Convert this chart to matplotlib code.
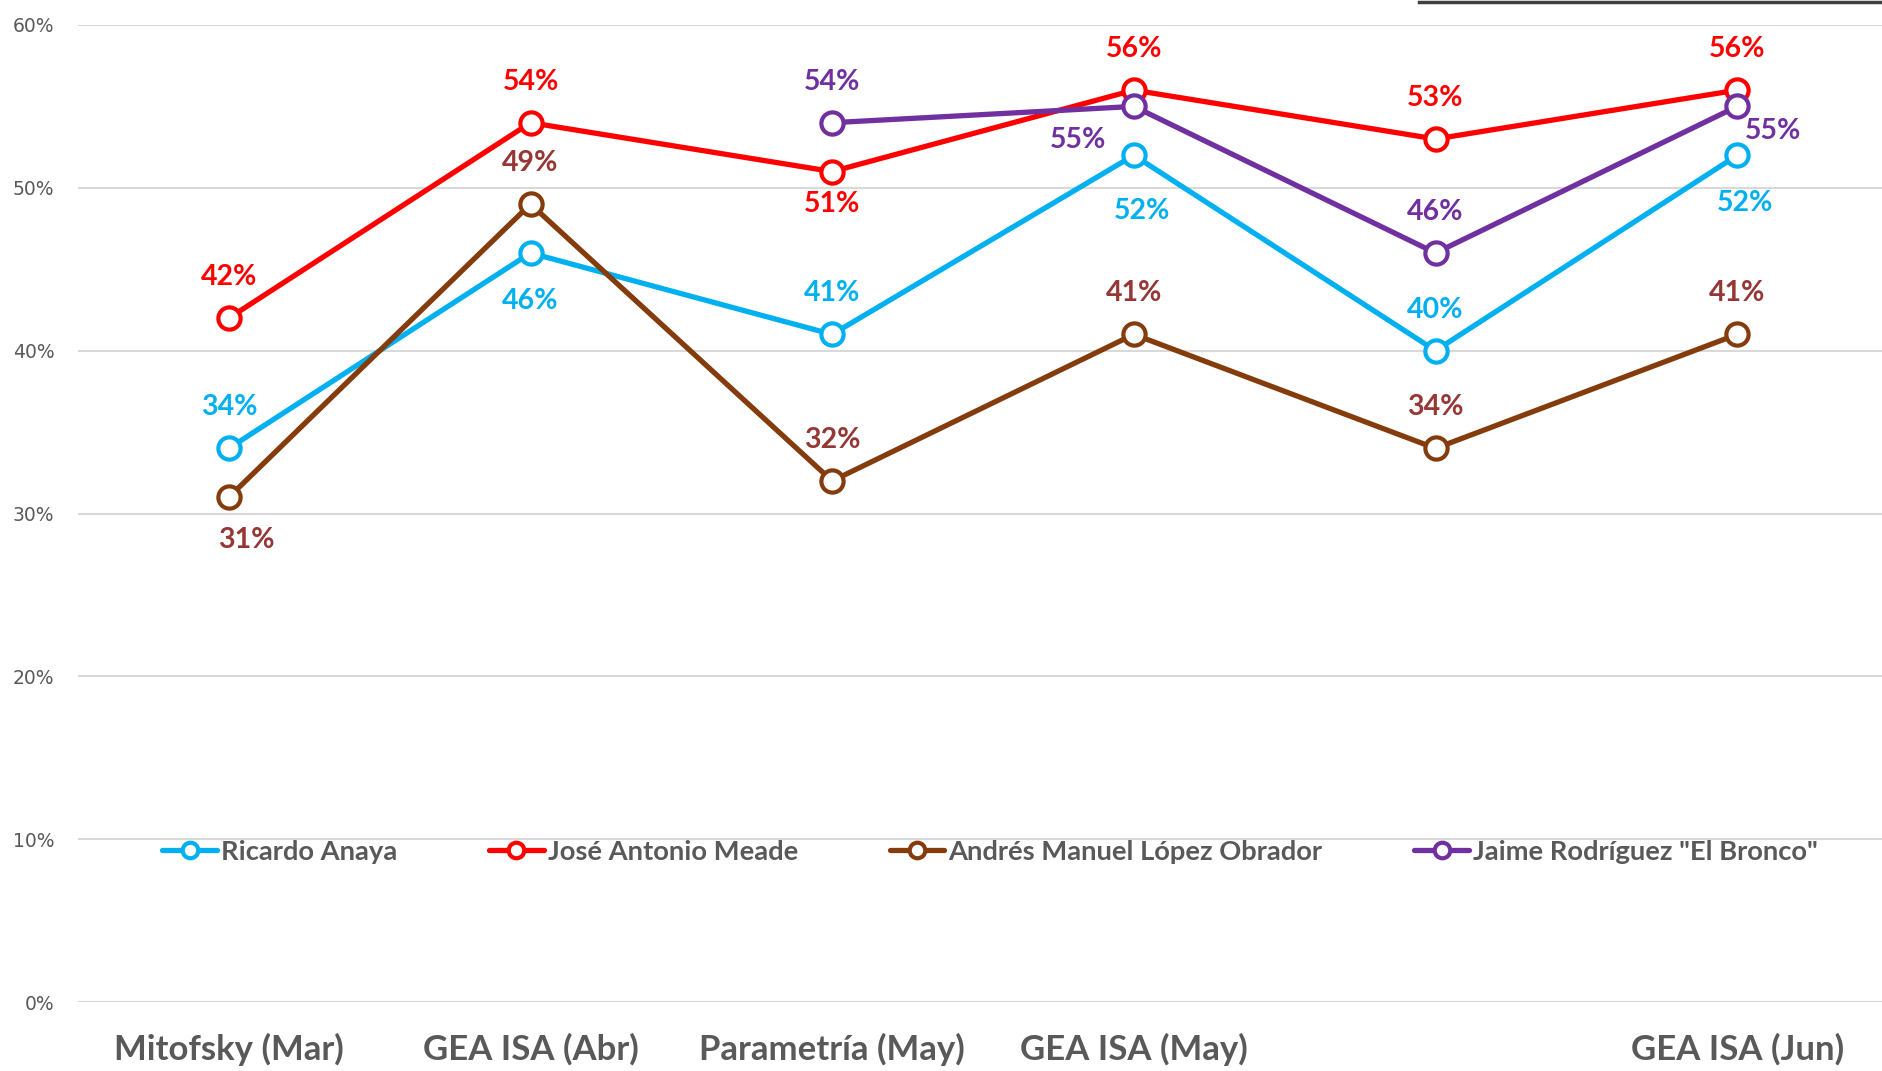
import matplotlib.pyplot as plt
from matplotlib.lines import Line2D
import numpy as np

# Encuestas
categories = ['Mitofsky (Mar)', 'GEA ISA (Abr)', 'Parametría (May)', 'GEA ISA (May)', '', 'GEA ISA (Jun)']
anaya = [0.34, 0.46, 0.41, 0.52, 0.40, 0.52]
meade = [0.42, 0.54, 0.51, 0.56, 0.53, 0.56]
amlo = [0.31, 0.49, 0.32, 0.41, 0.34, 0.41]
bronco = [np.nan, np.nan, 0.54, 0.55, 0.46, 0.55]

names = ['Ricardo Anaya', 'José Antonio Meade', 'Andrés Manuel López Obrador', 'Jaime Rodríguez "El Bronco"']
colors = ['#00B0F0', '#FF0000', '#843C0C', '#7030A0']
label_colors = ['#00B0F0', '#FF0000', '#953735', '#7030A0']

# label offsets (pixels) per point: (dx, dy)
A, B = (0, 41), (0, -48)
offsets = [
    [A, B, A, (8, -56), A, (8, -48)],
    [A, A, (0, -32), A, A, A],
    [(17, -43), A, A, A, A, A],
    [None, None, A, (-56, -34), A, (36, -25)],
]

fig = plt.figure(figsize=(18.82, 10.71), dpi=100)
ax = fig.add_axes([78 / 1882, 1 - 1002 / 1071, 1 - 78 / 1882, (1002 - 25) / 1071])
x = np.arange(len(categories))

for vals, name, c, lc, offs in zip([anaya, meade, amlo, bronco], names, colors, label_colors, offsets):
    ax.plot(x, vals, color=c, lw=3.8, marker='o', ms=16, mfc='white', mec=c, mew=3.0,
            label=name, zorder=3, solid_capstyle='round')
    for xi, v, off in zip(x, vals, offs):
        if off is None or np.isnan(v):
            continue
        ax.annotate(f'{v * 100:.0f}%', (xi, v), xytext=off, textcoords='offset pixels',
                    ha='center', va='center', fontsize=20.5, fontweight='bold',
                    color=lc, family='Lato', zorder=4)

ax.set_xlim(-0.5, 5.48)
ax.set_ylim(0, 0.6)
ax.set_yticks(np.arange(0, 0.61, 0.1))
ax.set_yticklabels([f'{int(t * 100)}%' for t in np.arange(0, 0.61, 0.1)],
                   fontsize=13.5, color='#595959')
ax.set_xticks(x)
ax.set_xticklabels(categories, fontsize=25, fontweight='bold', color='#595959', family='Lato')
ax.tick_params(axis='both', length=0)
ax.tick_params(axis='y', pad=17)
ax.tick_params(axis='x', pad=22)
ax.grid(axis='y', color='#D9D9D9', lw=1.5)
ax.set_axisbelow(True)
for s in ax.spines.values():
    s.set_visible(False)

leg = ax.legend(loc='center', bbox_to_anchor=(990 / 1882, 1 - 852 / 1071),
                bbox_transform=fig.transFigure, ncol=4, frameon=False,
                handlelength=2.0, handletextpad=0.15, columnspacing=3.35,
                prop={'family': 'Lato', 'weight': 'bold', 'size': 19.7}, markerscale=0.7)
for t in leg.get_texts():
    t.set_color('#595959')

# borde superior derecho (recortado)
fig.add_artist(Line2D([1419 / 1882, 1.0], [1 - 1.5 / 1071, 1 - 1.5 / 1071],
                      transform=fig.transFigure, color='#404040', lw=2.5))

fig.savefig('out.png', dpi=100)
